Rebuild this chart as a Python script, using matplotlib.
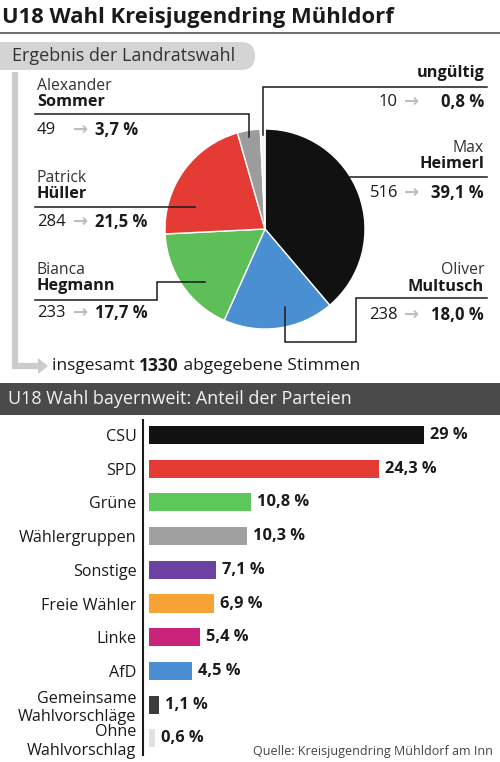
"""U18 Wahl Kreisjugendring Mühldorf: Landratswahl pie + bayernweit party bars."""

import matplotlib
matplotlib.use("Agg")
import matplotlib.pyplot as plt
from matplotlib.patches import FancyBboxPatch, Polygon, Rectangle

plt.rcParams["font.family"] = ["Open Sans", "DejaVu Sans"]

# --- data -------------------------------------------------------------------
first_names = ["Max", "Oliver", "Bianca", "Patrick", "Alexander", ""]
last_names = ["Heimerl", "Multusch", "Hegmann", "Hüller", "Sommer", "ungültig"]
votes = [516, 238, 233, 284, 49, 10]
vote_pct = [39.1, 18.0, 17.7, 21.5, 3.7, 0.8]
total_votes = 1330

parties = ["CSU", "SPD", "Grüne", "Wählergruppen", "Sonstige", "Freie Wähler",
           "Linke", "AfD", "Gemeinsame\nWahlvorschläge", "Ohne\nWahlvorschlag"]
party_share = [29, 24.3, 10.8, 10.3, 7.1, 6.9, 5.4, 4.5, 1.1, 0.6]

# --- style ------------------------------------------------------------------
INK = "#1a1a1a"
ARROW = "#bdbdbd"
pie_colors = ["#111111", "#4a8fd2", "#5cbf58", "#e43b35", "#9c9c9c", "#f2f2f2"]
party_colors = ["#111111", "#e43b35", "#5cc85a", "#a0a0a0", "#6c42a4",
                "#f7a234", "#c9237c", "#4a8fd2", "#3c3c3c", "#e2e2e2"]

W, H = 500, 762


def de_share(v):
    s = f"{v:g}" if float(v).is_integer() else f"{v:.1f}"
    return s.replace(".", ",") + " %"


def de_pct(v):
    return f"{v:.1f}".replace(".", ",") + " %"


fig = plt.figure(figsize=(W / 100, H / 100), dpi=100)
fig.patch.set_facecolor("white")

# --- pie --------------------------------------------------------------------
cx, cy, r = 265, 229, 100
axp = fig.add_axes([(cx - r) / W, (H - cy - r) / H, 2 * r / W, 2 * r / H])
axp.pie(votes, colors=pie_colors, startangle=90, counterclock=False,
        wedgeprops=dict(edgecolor="white", linewidth=1.0))
axp.set_xlim(-1, 1)
axp.set_ylim(-1, 1)
axp.set_axis_off()

# --- bars -------------------------------------------------------------------
x0, px_per_pct = 149, 9.48
row0, row_step = 435, 33.7
top, bot = 420, 755
axb = fig.add_axes([x0 / W, (H - bot) / H, 345 / W, (bot - top) / H])
ypos = list(range(len(parties)))
axb.barh(ypos, party_share, height=0.54, color=party_colors)
for y, v in zip(ypos, party_share):
    axb.text(v + 6 / px_per_pct, y, de_share(v), va="center", ha="left",
             fontsize=11.8, fontweight="bold", color=INK)
axb.set_xlim(0, 345 / px_per_pct)
axb.set_ylim((bot - row0) / row_step, (top - row0) / row_step)
axb.tick_params(axis="y", length=0, pad=5, labelsize=11.6, labelcolor=INK)
axb.set_yticks(ypos)
axb.set_yticklabels(parties, linespacing=0.8, va="center")
axb.set_xticks([])
for s in ("top", "right", "bottom"):
    axb.spines[s].set_visible(False)
axb.spines["left"].set_position(("outward", 4))
axb.spines["left"].set_color(INK)
axb.spines["left"].set_linewidth(1.5)

# --- overlay (pixel coordinates) --------------------------------------------
ax = fig.add_axes([0, 0, 1, 1], zorder=5)
ax.set_xlim(0, W)
ax.set_ylim(H, 0)
ax.set_axis_off()

ax.text(2, 17, "U18 Wahl Kreisjugendring Mühldorf", fontsize=15.8,
        fontweight="bold", color=INK, va="center", ha="left")
ax.plot([0, W], [33, 33], color="#555555", lw=1.2)

ax.add_patch(FancyBboxPatch((-30, 42), 285, 28,
                            boxstyle="round,pad=0,rounding_size=14",
                            fc="#d4d4d4", ec="none"))
ax.text(12, 56, "Ergebnis der Landratswahl", fontsize=13, color="#333333",
        va="center", ha="left")

# gray bracket to the total
ax.plot([15, 15, 40], [72, 366, 366], color="#cccccc", lw=4.5,
        solid_joinstyle="miter", solid_capstyle="butt")
ax.add_patch(Polygon([[38, 358], [48, 366], [38, 374]], closed=True,
                     fc="#cccccc", ec="none"))
ax.text(52, 366, "insgesamt ", fontsize=12.5, color=INK, va="center")
ax.annotate(str(total_votes), xy=(1, 0.5), xycoords=ax.texts[-1],
            fontsize=12.5, fontweight="bold", color=INK, va="center")
ax.annotate(" abgegebene Stimmen", xy=(1, 0.5), xycoords=ax.texts[-1],
            fontsize=12.5, color=INK, va="center")

LW = 1.1
NAME_FS, NUM_FS = 11.3, 12


def lead(xs, ys):
    ax.plot(xs, ys, color=INK, lw=LW, solid_joinstyle="miter")


def left_label(i, y_first, y_last, y_nums):
    ax.text(37, y_first, first_names[i], fontsize=NAME_FS, color="#333333",
            va="center")
    ax.text(37, y_last, last_names[i], fontsize=NAME_FS + 0.4,
            fontweight="bold", color=INK, va="center")
    ax.text(37, y_nums, str(votes[i]), fontsize=NUM_FS, color=INK, va="center")
    ax.text(81, y_nums, "→", fontsize=13, fontweight="bold", color=ARROW,
            va="center", ha="center", family="DejaVu Sans")
    ax.text(95, y_nums, de_pct(vote_pct[i]), fontsize=NUM_FS,
            fontweight="bold", color=INK, va="center")


def right_label(i, y_first, y_last, y_nums):
    if first_names[i]:
        ax.text(484, y_first, first_names[i], fontsize=NAME_FS,
                color="#333333", va="center", ha="right")
    ax.text(484, y_last, last_names[i], fontsize=NAME_FS + 0.4,
            fontweight="bold", color=INK, va="center", ha="right")
    ax.text(398, y_nums, str(votes[i]), fontsize=NUM_FS, color=INK,
            va="center", ha="right")
    ax.text(412, y_nums, "→", fontsize=13, fontweight="bold", color=ARROW,
            va="center", ha="center", family="DejaVu Sans")
    ax.text(484, y_nums, de_pct(vote_pct[i]), fontsize=NUM_FS,
            fontweight="bold", color=INK, va="center", ha="right")


# Sommer
left_label(4, 86, 102, 130)
lead([35, 249, 249], [114, 114, 137])
# Hüller
left_label(3, 178, 194, 222)
lead([35, 195], [207, 207])
# Hegmann
left_label(2, 270, 286, 313)
lead([35, 157, 157, 205], [300, 300, 282, 282])
# ungültig
right_label(5, None, 73, 102)
lead([487, 263, 263], [87, 87, 135])
# Heimerl
right_label(0, 148, 164, 193)
lead([350, 487], [177, 177])
# Multusch
right_label(1, 270, 287, 315)
lead([487, 356, 356, 285, 285], [298, 298, 342, 342, 307])

# dark header for the bar chart
ax.add_patch(Rectangle((0, 383), W, 32, fc="#4a4a4a", ec="none"))
ax.text(8, 399, "U18 Wahl bayernweit: Anteil der Parteien", fontsize=13,
        color="#f2f2f2", va="center", ha="left")

ax.text(493, 752, "Quelle: Kreisjugendring Mühldorf am Inn", fontsize=9,
        color="#444444", va="center", ha="right")

fig.savefig("out.png", dpi=100, facecolor="white")
